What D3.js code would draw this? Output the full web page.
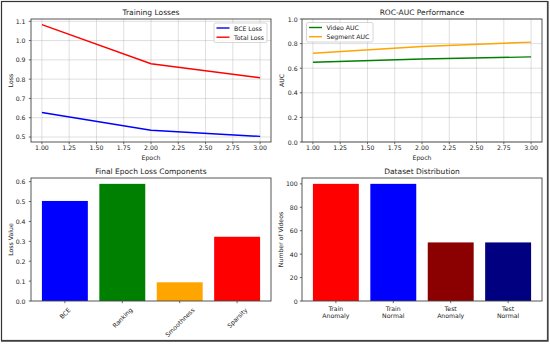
<!DOCTYPE html>
<html><head><meta charset="utf-8">
<script src="https://cdn.jsdelivr.net/npm/d3@7"></script>
<style>
html,body{margin:0;padding:0;background:#fff;}
svg{display:block;font-family:"DejaVu Sans",sans-serif;}
</style></head><body>
<svg id="c" width="550" height="344"></svg>
<script>
// ---- data ----
const epochs = [1, 2, 3];
const bceLoss = [0.627, 0.535, 0.503];
const totalLoss = [1.083, 0.880, 0.807];
const videoAuc = [0.648, 0.675, 0.692];
const segmentAuc = [0.721, 0.776, 0.812];
const lossComponents = ["BCE", "Ranking", "Smoothness", "Sparsity"];
const lossComponentValues = [0.503, 0.589, 0.094, 0.323];
const lossComponentColors = ["blue", "green", "orange", "red"];
const datasetCategories = ["Train\nAnomaly", "Train\nNormal", "Test\nAnomaly", "Test\nNormal"];
const datasetCounts = [100, 100, 50, 50];
const datasetColors = ["red", "blue", "darkred", "navy"];
const epochTicks = [1.00, 1.25, 1.50, 1.75, 2.00, 2.25, 2.50, 2.75, 3.00];
const lossTicks = [0.5, 0.6, 0.7, 0.8, 0.9, 1.0, 1.1];
const aucTicks = [0.0, 0.2, 0.4, 0.6, 0.8, 1.0];
const componentTicks = [0.0, 0.1, 0.2, 0.3, 0.4, 0.5, 0.6];
const countTicks = [0, 20, 40, 60, 80, 100];

const svg = d3.select("#c");
const TXT = "#222";
const FS = 6.2, TFS = 7.5;

// outer frame
svg.append("rect").attr("x", 1.5).attr("y", 1.5).attr("width", 546).attr("height", 339)
  .attr("fill", "none").attr("stroke", "#333").attr("stroke-width", 1.2);
svg.append("path").attr("d", "M547.8,1 V341 H1").attr("fill", "none").attr("stroke", "#444").attr("stroke-width", 1.6);

function pad(lo, hi) { const s = hi - lo; return [lo - 0.05 * s, hi + 0.05 * s]; }

function frame(g, b) {
  g.append("rect").attr("x", b.x0).attr("y", b.y0).attr("width", b.x1 - b.x0).attr("height", b.y1 - b.y0)
    .attr("fill", "none").attr("stroke", "#444").attr("stroke-width", 0.9);
}
function title(g, b, t) {
  g.append("text").attr("x", (b.x0 + b.x1) / 2).attr("y", b.y0 - 4).attr("text-anchor", "middle")
    .attr("font-size", TFS).attr("fill", TXT).text(t);
}
function ylabel(g, b, t, x) {
  g.append("text").attr("transform", `translate(${x},${(b.y0 + b.y1) / 2}) rotate(-90)`)
    .attr("text-anchor", "middle").attr("dominant-baseline", "central")
    .attr("font-size", FS).attr("fill", TXT).text(t);
}
function yaxis(g, b, y, ticks, fmt, gap, grid) {
  ticks.forEach(v => {
    const py = y(v);
    if (grid) g.append("line").attr("x1", b.x0).attr("x2", b.x1).attr("y1", py).attr("y2", py)
      .attr("stroke", "#b0b0b0").attr("stroke-opacity", 0.5).attr("stroke-width", 0.8);
    g.append("line").attr("x1", b.x0 - 2.2).attr("x2", b.x0).attr("y1", py).attr("y2", py)
      .attr("stroke", "#444").attr("stroke-width", 0.8);
    g.append("text").attr("x", b.x0 - gap).attr("y", py).attr("text-anchor", "end")
      .attr("dominant-baseline", "central").attr("font-size", FS).attr("fill", TXT).text(fmt(v));
  });
}
function xaxisNum(g, b, x, ticks, fmt, grid) {
  ticks.forEach(v => {
    const px = x(v);
    if (grid) g.append("line").attr("x1", px).attr("x2", px).attr("y1", b.y0).attr("y2", b.y1)
      .attr("stroke", "#b0b0b0").attr("stroke-opacity", 0.5).attr("stroke-width", 0.8);
    g.append("line").attr("x1", px).attr("x2", px).attr("y1", b.y1).attr("y2", b.y1 + 2.2)
      .attr("stroke", "#444").attr("stroke-width", 0.8);
    g.append("text").attr("x", px).attr("y", b.y1 + 5.4).attr("text-anchor", "middle")
      .attr("dominant-baseline", "central").attr("font-size", FS).attr("fill", TXT).text(fmt(v));
  });
  g.append("text").attr("x", (b.x0 + b.x1) / 2).attr("y", b.y1 + 15.5).attr("text-anchor", "middle")
    .attr("dominant-baseline", "central").attr("font-size", FS).attr("fill", TXT).text("Epoch");
}
function legend(g, lx, ly, w, items) {
  g.append("rect").attr("x", lx).attr("y", ly).attr("width", w).attr("height", 19.5).attr("rx", 1.5)
    .attr("fill", "#fff").attr("fill-opacity", 0.8).attr("stroke", "#ccc").attr("stroke-width", 0.8);
  items.forEach((it, i) => {
    const cy = ly + 5 + i * 9.2;
    g.append("line").attr("x1", lx + 2.5).attr("x2", lx + 15.5).attr("y1", cy).attr("y2", cy)
      .attr("stroke", it.c).attr("stroke-width", 1.4);
    g.append("text").attr("x", lx + 20).attr("y", cy).attr("dominant-baseline", "central")
      .attr("font-size", FS).attr("fill", TXT).text(it.t);
  });
}
const f2 = d3.format(".2f"), f1 = d3.format(".1f"), f0 = d3.format("d");

// ---- Panel 1: Training Losses ----
{
  const b = {x0: 31, x1: 271, y0: 19, y1: 142};
  const g = svg.append("g");
  const x = d3.scaleLinear().domain(pad(d3.min(epochs), d3.max(epochs))).range([b.x0, b.x1]);
  const all = bceLoss.concat(totalLoss);
  const y = d3.scaleLinear().domain(pad(d3.min(all), d3.max(all))).range([b.y1, b.y0]);
  xaxisNum(g, b, x, epochTicks, f2, true);
  yaxis(g, b, y, lossTicks, f1, 5.5, true);
  const line = d3.line().x((d, i) => x(epochs[i])).y(d => y(d));
  g.append("path").datum(bceLoss).attr("d", line).attr("fill", "none").attr("stroke", "blue").attr("stroke-width", 1.4);
  g.append("path").datum(totalLoss).attr("d", line).attr("fill", "none").attr("stroke", "red").attr("stroke-width", 1.4);
  frame(g, b);
  title(g, b, "Training Losses");
  ylabel(g, b, "Loss", 10.7);
  legend(g, 214, 23, 53, [{t: "BCE Loss", c: "blue"}, {t: "Total Loss", c: "red"}]);
}

// ---- Panel 2: ROC-AUC ----
{
  const b = {x0: 302, x1: 542, y0: 19, y1: 142};
  const g = svg.append("g");
  const x = d3.scaleLinear().domain(pad(d3.min(epochs), d3.max(epochs))).range([b.x0, b.x1]);
  const y = d3.scaleLinear().domain([0, 1]).range([b.y1, b.y0]);
  xaxisNum(g, b, x, epochTicks, f2, true);
  yaxis(g, b, y, aucTicks, f1, 4.3, true);
  const line = d3.line().x((d, i) => x(epochs[i])).y(d => y(d));
  g.append("path").datum(videoAuc).attr("d", line).attr("fill", "none").attr("stroke", "green").attr("stroke-width", 1.4);
  g.append("path").datum(segmentAuc).attr("d", line).attr("fill", "none").attr("stroke", "orange").attr("stroke-width", 1.4);
  frame(g, b);
  title(g, b, "ROC-AUC Performance");
  ylabel(g, b, "AUC", 281.7);
  legend(g, 306.5, 22.5, 66.5, [{t: "Video AUC", c: "green"}, {t: "Segment AUC", c: "orange"}]);
}

// ---- Panel 3: Final Epoch Loss Components ----
{
  const b = {x0: 31, x1: 271, y0: 178, y1: 301};
  const g = svg.append("g");
  const n = lossComponents.length;
  const x = d3.scaleLinear().domain(pad(-0.4, n - 1 + 0.4)).range([b.x0, b.x1]);
  const y = d3.scaleLinear().domain([0, d3.max(lossComponentValues) * 1.05]).range([b.y1, b.y0]);
  yaxis(g, b, y, componentTicks, f1, 5.5, false);
  g.selectAll("rect.bar").data(lossComponentValues).enter().append("rect")
    .attr("x", (d, i) => x(i - 0.4)).attr("width", (d, i) => x(i + 0.4) - x(i - 0.4))
    .attr("y", d => y(d)).attr("height", d => y(0) - y(d))
    .attr("fill", (d, i) => lossComponentColors[i]);
  lossComponents.forEach((c, i) => {
    const px = x(i);
    g.append("line").attr("x1", px).attr("x2", px).attr("y1", b.y1).attr("y2", b.y1 + 2.2)
      .attr("stroke", "#444").attr("stroke-width", 0.8);
    const t = g.append("text").attr("text-anchor", "middle").attr("dominant-baseline", "central")
      .attr("font-size", FS).attr("fill", TXT).text(c);
    const L = t.node().getComputedTextLength();
    const h = FS * 1.0;
    const bb = (L + h) * Math.SQRT1_2;
    t.attr("transform", `translate(${px},${b.y1 + 5.6 + bb / 2}) rotate(-45)`);
  });
  frame(g, b);
  title(g, b, "Final Epoch Loss Components");
  ylabel(g, b, "Loss Value", 10);
}

// ---- Panel 4: Dataset Distribution ----
{
  const b = {x0: 302, x1: 542, y0: 178, y1: 301};
  const g = svg.append("g");
  const n = datasetCounts.length;
  const x = d3.scaleLinear().domain(pad(-0.4, n - 1 + 0.4)).range([b.x0, b.x1]);
  const y = d3.scaleLinear().domain([0, d3.max(datasetCounts) * 1.05]).range([b.y1, b.y0]);
  yaxis(g, b, y, countTicks, f0, 4.3, false);
  g.selectAll("rect.bar").data(datasetCounts).enter().append("rect")
    .attr("x", (d, i) => x(i - 0.4)).attr("width", (d, i) => x(i + 0.4) - x(i - 0.4))
    .attr("y", d => y(d)).attr("height", d => y(0) - y(d))
    .attr("fill", (d, i) => datasetColors[i]);
  datasetCategories.forEach((c, i) => {
    const px = x(i);
    g.append("line").attr("x1", px).attr("x2", px).attr("y1", b.y1).attr("y2", b.y1 + 2.2)
      .attr("stroke", "#444").attr("stroke-width", 0.8);
    c.split("\n").forEach((ln, k) => {
      g.append("text").attr("x", px).attr("y", b.y1 + 7.3 + k * 7.4).attr("text-anchor", "middle")
        .attr("dominant-baseline", "central").attr("font-size", FS).attr("fill", TXT).text(ln);
    });
  });
  frame(g, b);
  title(g, b, "Dataset Distribution");
  ylabel(g, b, "Number of Videos", 280);
}
</script>
</body></html>
